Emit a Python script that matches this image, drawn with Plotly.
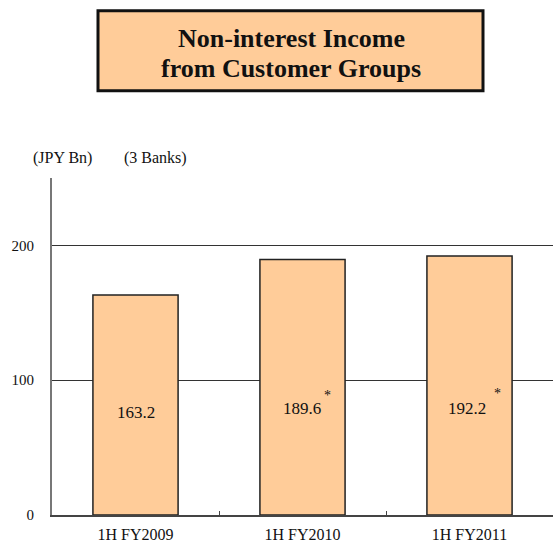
import plotly.graph_objects as go

categories = ["1H FY2009", "1H FY2010", "1H FY2011"]
values = [163.2, 189.6, 192.2]
value_labels = ["163.2", "189.6", "192.2"]
asterisk = ["", "*", "*"]
y_ticks = [0, 100, 200]
title_lines = ["Non-interest Income", "from Customer Groups"]
unit_labels = ["(JPY Bn)", "(3 Banks)"]

FONT = "Liberation Serif"

fig = go.Figure()
fig.add_trace(go.Bar(
    x=categories, y=values, width=0.51,
    marker=dict(color="#FFCC99", line=dict(color="#222222", width=1.5)),
    hoverinfo="skip",
))

label_y = [76, 79, 79]
label_dx = [0, -1, -3]
ast_dx = [0, 25, 28]
ast_dy = [0, 13, 15]
for i, c in enumerate(categories):
    fig.add_annotation(x=c, y=label_y[i], text=value_labels[i], showarrow=False,
                       xshift=label_dx[i], xanchor="center", yanchor="middle",
                       font=dict(family=FONT, size=17, color="#111111"))
    if asterisk[i]:
        fig.add_annotation(x=c, y=label_y[i], text=asterisk[i], showarrow=False,
                           xshift=ast_dx[i], yshift=ast_dy[i],
                           xanchor="center", yanchor="middle",
                           font=dict(family=FONT, size=14, color="#111111"))

PW, PH, L, T = 501, 337.5, 52, 177.5


def px(x):
    return (x - L) / PW


def py(y):
    return (T + PH - y) / PH


# title box
fig.add_shape(type="rect", xref="paper", yref="paper",
              x0=px(98), x1=px(483), y0=py(90), y1=py(10),
              fillcolor="#FFCC99", line=dict(color="#111111", width=3), layer="above")
for line, yy in zip(title_lines, [38, 68]):
    fig.add_annotation(xref="paper", yref="paper", x=px(291), y=py(yy),
                       xanchor="center", yanchor="middle",
                       text="<b>" + line + "</b>",
                       showarrow=False, font=dict(family=FONT, size=26, color="#111111"))

for t, xx in zip(unit_labels, [62, 155]):
    fig.add_annotation(xref="paper", yref="paper", x=px(xx), y=py(157),
                       xanchor="center", yanchor="middle",
                       text=t, showarrow=False,
                       font=dict(family=FONT, size=16, color="#111111"))

fig.update_layout(
    width=553, height=542, autosize=False,
    margin=dict(l=L, r=0, t=T, b=542 - T - PH, autoexpand=False),
    paper_bgcolor="white", plot_bgcolor="white",
    showlegend=False,
    font=dict(family=FONT, color="#111111"),
)
fig.update_yaxes(range=[0, 250], tickvals=y_ticks, ticktext=[str(v) for v in y_ticks],
                 showgrid=True, gridcolor="#333333", gridwidth=1,
                 showline=True, linecolor="#777777", linewidth=2,
                 ticks="", ticklabelstandoff=13, zeroline=False, automargin=False,
                 tickfont=dict(family=FONT, size=15, color="#111111"))
fig.update_xaxes(showline=True, linecolor="#444444", linewidth=1.5,
                 ticks="inside", ticklen=4, tickcolor="#444444", tickson="boundaries",
                 showgrid=False, ticklabelstandoff=4, automargin=False,
                 tickfont=dict(family=FONT, size=16, color="#111111"))

fig.write_html("out.html", config={"displayModeBar": False},
               post_script="document.body.style.margin='0';document.body.style.overflow='hidden';")
